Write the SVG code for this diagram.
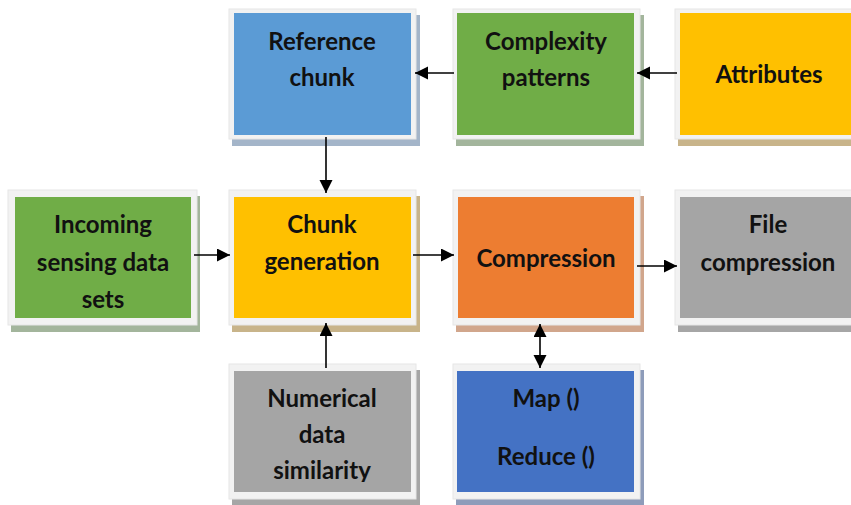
<svg xmlns="http://www.w3.org/2000/svg" width="851" height="505" viewBox="0 0 851 505">
<style>
.frame{fill:#f2f2f2;stroke:#e6e6e6;stroke-width:1}
.lbl{font-family:Lato,"Liberation Sans",sans-serif;font-weight:bold;font-size:24px;fill:#111;text-anchor:middle}
.conn{stroke:#000;stroke-width:1.6;fill:none}
</style>
<defs>
<marker id="ah" markerUnits="userSpaceOnUse" markerWidth="14" markerHeight="14" refX="13" refY="6.5" orient="auto-start-reverse">
<path d="M0,0 L13,6.5 L0,13 z" fill="#000"/>
</marker>
<clipPath id="clipNum"><rect x="234" y="371" width="177" height="111"/></clipPath>
</defs>
<rect width="851" height="505" fill="#fff"/>

<g id="reference-chunk">
<rect x="232" y="15" width="188" height="131" fill="#a4b5c9"/>
<rect class="frame" x="229" y="9" width="187" height="130"/>
<rect x="234" y="13" width="177" height="122" fill="#5b9bd5"/>
<text class="lbl" x="322" y="50">Reference</text>
<text class="lbl" x="322" y="86">chunk</text>
</g>

<g id="complexity-patterns">
<rect x="456" y="15" width="188" height="131" fill="#a3b59c"/>
<rect class="frame" x="453" y="9" width="187" height="130"/>
<rect x="457" y="13" width="177" height="122" fill="#70ad47"/>
<text class="lbl" x="546" y="50">Complexity</text>
<text class="lbl" x="546" y="86">patterns</text>
</g>

<g id="attributes">
<rect x="678" y="15" width="188" height="131" fill="#c8b48a"/>
<rect class="frame" x="675" y="9" width="187" height="130"/>
<rect x="680" y="13" width="177" height="122" fill="#ffc000"/>
<text class="lbl" x="769" y="83">Attributes</text>
</g>

<g id="incoming">
<rect x="11" y="196" width="189" height="136" fill="#a3b59c"/>
<rect class="frame" x="8" y="190" width="189" height="135"/>
<rect x="15" y="197" width="176" height="121" fill="#70ad47"/>
<text class="lbl" x="103" y="233">Incoming</text>
<text class="lbl" x="103" y="271">sensing data</text>
<text class="lbl" x="103" y="308">sets</text>
</g>

<g id="chunk-generation">
<rect x="232" y="196" width="188" height="136" fill="#c8b48a"/>
<rect class="frame" x="229" y="190" width="187" height="135"/>
<rect x="234" y="197" width="177" height="121" fill="#ffc000"/>
<text class="lbl" x="322" y="233">Chunk</text>
<text class="lbl" x="322" y="270">generation</text>
</g>

<g id="compression">
<rect x="456" y="196" width="188" height="136" fill="#d1a68c"/>
<rect class="frame" x="453" y="190" width="187" height="135"/>
<rect x="458" y="197" width="176" height="121" fill="#ed7d31"/>
<text class="lbl" x="546" y="267">Compression</text>
</g>

<g id="file-compression">
<rect x="678" y="196" width="188" height="136" fill="#a6a6a6"/>
<rect class="frame" x="675" y="190" width="187" height="135"/>
<rect x="680" y="197" width="177" height="121" fill="#a5a5a5"/>
<text class="lbl" x="768" y="233">File</text>
<text class="lbl" x="768" y="271">compression</text>
</g>

<g id="numerical">
<rect x="232" y="370" width="188" height="136" fill="#a6a6a6"/>
<rect class="frame" x="229" y="364" width="187" height="135"/>
<rect x="234" y="371" width="177" height="121" fill="#a5a5a5"/>
<g clip-path="url(#clipNum)">
<text class="lbl" x="322" y="407">Numerical</text>
<text class="lbl" x="322" y="443">data</text>
<text class="lbl" x="322" y="479">similarity</text>
</g>
</g>

<g id="map-reduce">
<rect x="456" y="370" width="188" height="136" fill="#8e9cba"/>
<rect class="frame" x="453" y="364" width="187" height="135"/>
<rect x="457" y="371" width="177" height="121" fill="#4472c4"/>
<text class="lbl" x="546" y="407">Map ()</text>
<text class="lbl" x="546" y="465">Reduce ()</text>
</g>

<g id="connectors">
<line class="conn" x1="454" y1="73" x2="415" y2="73" marker-end="url(#ah)"/>
<line class="conn" x1="677" y1="73" x2="637" y2="73" marker-end="url(#ah)"/>
<line class="conn" x1="326" y1="137" x2="326" y2="193" marker-end="url(#ah)"/>
<line class="conn" x1="194" y1="255" x2="230" y2="255" marker-end="url(#ah)"/>
<line class="conn" x1="413" y1="255" x2="454" y2="255" marker-end="url(#ah)"/>
<line class="conn" x1="637" y1="266" x2="677" y2="266" marker-end="url(#ah)"/>
<line class="conn" x1="326" y1="368" x2="326" y2="323" marker-end="url(#ah)"/>
<line class="conn" x1="540" y1="324" x2="540" y2="368" marker-start="url(#ah)" marker-end="url(#ah)"/>
</g>
</svg>
